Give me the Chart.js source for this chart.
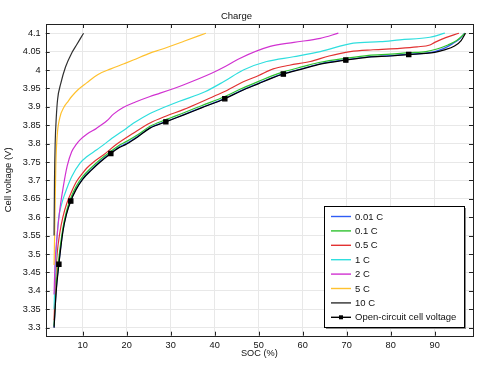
<!DOCTYPE html>
<html><head><meta charset="utf-8">
<script src="https://cdn.jsdelivr.net/npm/chart.js@4/dist/chart.umd.min.js"></script>
<style>html,body{margin:0;padding:0;background:#fff;overflow:hidden}</style>
</head><body>
<canvas id="c" width="481" height="365"></canvas>
<script>
// ---- data ----
const seriesLabels = ['0.01 C','0.1 C','0.5 C','1 C','2 C','5 C','10 C','Open-circuit cell voltage'];
const xTicks = [10,20,30,40,50,60,70,80,90];
const yTicks = [3.3,3.35,3.4,3.45,3.5,3.55,3.6,3.65,3.7,3.75,3.8,3.85,3.9,3.95,4,4.05,4.1];

const soc001 = [3.5,4.0,4.6,5.5,6.3,7.3,8.5,10,12,14,16.4,18,20,22.5,25.3,28.9,33,37,42.3,46,50,53,55.6,60,64,69.8,75,80,84.1,88,90,92,94,95.7,96.8];
const v001   = [3.30,3.405,3.476,3.563,3.609,3.646,3.677,3.705,3.73,3.752,3.775,3.789,3.801,3.82,3.843,3.86,3.879,3.898,3.923,3.944,3.964,3.979,3.99,4.004,4.017,4.028,4.036,4.039,4.043,4.046,4.05,4.058,4.071,4.085,4.1];

const soc01 = [3.5,4.0,4.6,5.5,6.3,7.3,8.5,10,12,14,16.4,18,20,22.5,25.3,28.9,33,37,42.3,46,50,53,55.6,60,64,69.8,75,80,84.1,88,90.5,93,95,96.9];
const v01   = [3.305,3.42,3.49,3.57,3.615,3.652,3.683,3.71,3.735,3.757,3.779,3.793,3.806,3.824,3.847,3.865,3.884,3.903,3.928,3.949,3.969,3.984,3.995,4.009,4.021,4.032,4.04,4.043,4.047,4.05,4.057,4.068,4.08,4.1];

const soc05 = [3.5,3.8,4.2,4.8,5.5,6.4,7.5,8.6,10,10.9,12.5,14.7,17.7,21.5,25.3,29,33,38.2,42,46.5,50,53.3,57,61.7,66,70.8,76,82.1,86,88.9,90,92.5,95.5];
const v05   = [3.32,3.42,3.5,3.557,3.6,3.638,3.67,3.697,3.72,3.733,3.75,3.769,3.798,3.828,3.856,3.875,3.893,3.92,3.94,3.968,3.985,4.003,4.013,4.023,4.038,4.05,4.055,4.059,4.063,4.068,4.075,4.088,4.1];

const soc1 = [3.5,3.7,4.0,4.5,5.2,6.0,7.5,9.4,11,13.2,17,20,21.5,25.3,27.6,32,37.8,42,46.5,51.8,57.9,64,71.5,77.6,82.1,88.9,92.3];
const v1   = [3.35,3.43,3.51,3.593,3.635,3.665,3.71,3.747,3.765,3.783,3.817,3.842,3.855,3.882,3.894,3.915,3.941,3.968,4.0,4.023,4.036,4.05,4.073,4.077,4.082,4.089,4.1];

const soc2 = [3.5,3.7,4.1,4.7,5.6,6.5,7.5,8.5,9.4,11,13.2,15.5,17,19.2,22,25.3,27.6,33,39.3,42.5,45.8,52.6,58,64,68.1];
const v2   = [3.39,3.47,3.538,3.61,3.683,3.74,3.778,3.797,3.81,3.826,3.842,3.862,3.88,3.898,3.913,3.928,3.937,3.96,3.991,4.01,4.032,4.064,4.075,4.086,4.1];

const soc5 = [3.5,3.7,3.9,4.2,4.8,5.8,6.7,7.5,9,10.9,13.5,16.4,19.4,21.5,25.3,27.6,33,38];
const v5   = [3.47,3.6,3.74,3.82,3.87,3.9,3.915,3.928,3.947,3.965,3.988,4.003,4.017,4.027,4.046,4.055,4.078,4.1];

const soc10 = [3.5,3.6,3.75,4.0,4.3,5.0,6.1,7.6,8.6,10.2];
const v10   = [3.55,3.7,3.8,3.87,3.92,3.962,4.008,4.048,4.068,4.1];

const socOcv = [3.5,4.0,4.6,5.5,6.3,7.3,8.5,10,12,14,16.4,18,20,22.5,25.3,28.9,33,37,42.3,46,50,53,55.6,60,64,69.8,75,80,84.1,88,90,92,94.5,96,97];
const vOcv   = [3.30,3.40,3.472,3.56,3.607,3.644,3.675,3.703,3.728,3.75,3.773,3.787,3.799,3.818,3.842,3.859,3.878,3.897,3.922,3.943,3.963,3.978,3.989,4.003,4.016,4.027,4.035,4.038,4.042,4.045,4.048,4.054,4.065,4.08,4.1];
const ocvMarkerSoc = [4.6,7.3,16.4,28.9,42.3,55.6,69.8,84.1];

// ---- styling ----
const colors = ['#2f5cf5','#2fc22f','#e23232','#2fdede','#d132d1','#ffc12e','#303030','#000000'];
const FONT = 'Liberation Sans, Arial, sans-serif';
const pairs = [[soc001,v001],[soc01,v01],[soc05,v05],[soc1,v1],[soc2,v2],[soc5,v5],[soc10,v10],[socOcv,vOcv]];
const toPts = (xs, ys) => xs.map((x, i) => ({x, y: ys[i]}));

const datasets = pairs.map((p, i) => {
  const isOcv = i === pairs.length - 1;
  return {
    label: seriesLabels[i],
    data: toPts(p[0], p[1]),
    showLine: true,
    borderColor: colors[i],
    backgroundColor: colors[i],
    borderWidth: 1.2,
    cubicInterpolationMode: 'monotone',
    pointStyle: 'rect',
    pointRadius: isOcv ? (ctx => ocvMarkerSoc.includes(p[0][ctx.dataIndex]) ? 3 : 0) : 0,
    pointHoverRadius: 0,
    order: pairs.length - i
  };
});

const frameAndLegend = {
  id: 'frameAndLegend',
  afterDatasetsDraw(chart) {
    const {ctx, chartArea: a, scales} = chart;
    ctx.save();
    ctx.strokeStyle = '#222';
    ctx.lineWidth = 1;
    ctx.beginPath();
    xTicks.forEach(v => {
      const px = Math.round(scales.x.getPixelForValue(v)) + 0.5;
      ctx.moveTo(px, a.top); ctx.lineTo(px, a.top + 4);
      ctx.moveTo(px, a.bottom); ctx.lineTo(px, a.bottom - 4);
    });
    yTicks.forEach(v => {
      const py = Math.round(scales.y.getPixelForValue(v)) + 0.5;
      ctx.moveTo(a.left, py); ctx.lineTo(a.left + 4, py);
      ctx.moveTo(a.right, py); ctx.lineTo(a.right - 4, py);
    });
    ctx.stroke();
    ctx.strokeRect(Math.round(a.left) + 0.5, Math.round(a.top) + 0.5, Math.round(a.right - a.left), Math.round(a.bottom - a.top));

    // legend box
    const w = 140, h = 121;
    const bx = Math.round(a.right - 9 - w), by = Math.round(a.bottom - 9 - h);
    ctx.fillStyle = '#8a8a8a';
    ctx.fillRect(bx + 2, by + 2, w, h);
    ctx.fillStyle = '#fff';
    ctx.fillRect(bx, by, w, h);
    ctx.strokeStyle = '#000';
    ctx.strokeRect(bx + 0.5, by + 0.5, w, h);
    ctx.font = '9.5px ' + FONT;
    ctx.textBaseline = 'middle';
    ctx.textAlign = 'left';
    chart.data.datasets.forEach((ds, i) => {
      const y = by + 10.5 + i * 14.4;
      ctx.strokeStyle = ds.borderColor;
      ctx.lineWidth = 1.4;
      ctx.beginPath();
      ctx.moveTo(bx + 7, y); ctx.lineTo(bx + 27, y);
      ctx.stroke();
      if (i === chart.data.datasets.length - 1) {
        ctx.fillStyle = ds.borderColor;
        ctx.fillRect(bx + 15, y - 2, 4, 4);
      }
      ctx.fillStyle = '#111';
      ctx.fillText(ds.label, bx + 31, y + 0.5);
    });
    ctx.restore();
  }
};

const fmt = v => String(parseFloat(Number(v).toFixed(2)));

new Chart(document.getElementById('c'), {
  type: 'scatter',
  data: { datasets },
  options: {
    responsive: false,
    animation: false,
    devicePixelRatio: 1,
    events: [],
    layout: { padding: { left: 0, right: 8, top: 0, bottom: 0 } },
    plugins: {
      legend: { display: false },
      tooltip: { enabled: false },
      title: {
        display: true, text: 'Charge', color: '#111',
        font: { family: FONT, size: 9.5, weight: 'normal', lineHeight: 1.2 },
        padding: { top: 10.6, bottom: 2.0 }
      }
    },
    scales: {
      x: {
        type: 'linear', min: 1.6, max: 98.7,
        afterFit: s => { s.height = 29.3; },
        afterBuildTicks: s => { s.ticks = xTicks.map(v => ({ value: v })); },
        grid: { color: '#e8e8e8', lineWidth: 1, drawTicks: false },
        border: { display: false },
        ticks: { color: '#111', padding: 4, maxRotation: 0, font: { family: FONT, size: 9.2 }, callback: v => fmt(v) },
        title: { display: true, text: 'SOC (%)', color: '#111', font: { family: FONT, size: 9.2, lineHeight: 1.2 }, padding: { top: 0, bottom: 6.3 } }
      },
      y: {
        type: 'linear', min: 3.278, max: 4.125,
        afterFit: s => { s.width = 45.7; },
        afterBuildTicks: s => { s.ticks = yTicks.map(v => ({ value: v })); },
        grid: { color: '#e8e8e8', lineWidth: 1, drawTicks: false },
        border: { display: false },
        ticks: { color: '#111', padding: 5, font: { family: FONT, size: 9.2 }, callback: v => fmt(v) },
        title: { display: true, text: 'Cell voltage (V)', color: '#111', font: { family: FONT, size: 9.5, lineHeight: 1.2 }, padding: { top: 2.6, bottom: 0 } }
      }
    }
  },
  plugins: [frameAndLegend]
});
</script>
</body></html>
